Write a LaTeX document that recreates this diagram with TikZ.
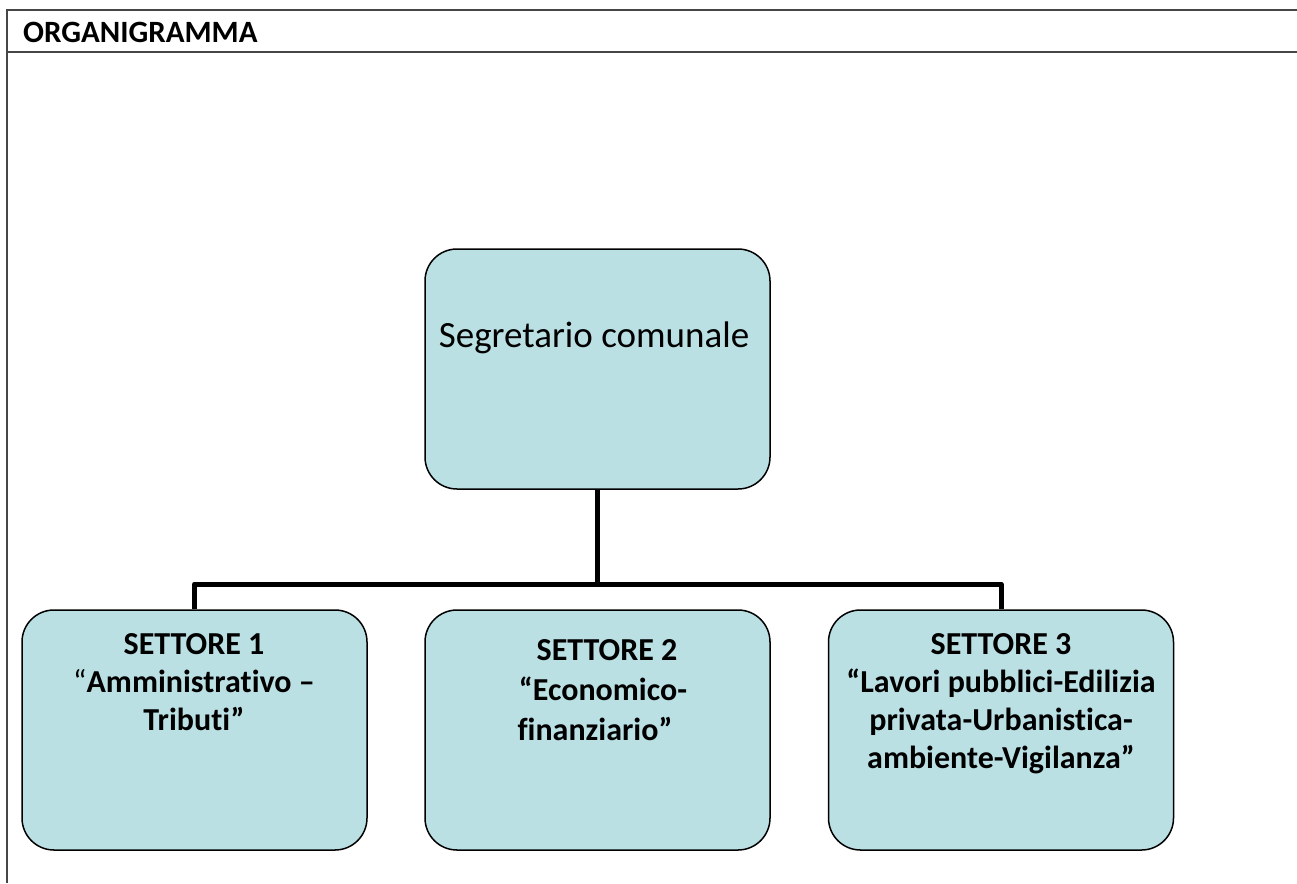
\documentclass[tikz,border=0pt]{standalone}
\usepackage{fontspec}
\setmainfont{Carlito}[Ligatures={NoCommon,NoRare}]
\definecolor{boxfill}{RGB}{186,224,228}
\definecolor{rulegray}{RGB}{70,70,70}
\begin{document}
\begin{tikzpicture}[x=1pt,y=-1pt,
  orgbox/.style={draw=black, line width=1.5pt, fill=boxfill, rounded corners=32pt,
    minimum width=345pt, minimum height=240pt, inner sep=0pt},
  boxtext/.style={font=\fontsize{32}{38}\selectfont\bfseries, align=center, inner sep=0pt, anchor=north},
  conn/.style={draw=black, line width=5pt, line join=round},
  tablerule/.style={draw=rulegray, line width=1.5pt}]
\useasboundingbox (0,0) rectangle (1297,883);
% table frame
\draw[tablerule] (7,883) -- (7,10) -- (1297,10);
\draw[tablerule] (7,52) -- (1297,52);
\node[anchor=base west, inner sep=0pt, font=\fontsize{31}{34}\selectfont\bfseries] (title) at (23,42.5) {ORGANIGRAMMA};
% boxes
\node[orgbox] (top) at (597.5,369) {};
\node[orgbox] (b1) at (194.5,730) {};
\node[orgbox] (b2) at (597.5,730) {};
\node[orgbox] (b3) at (1001,730) {};
% texts
\node[anchor=base, inner sep=0pt, font=\fontsize{37}{40}\selectfont] (toptext) at (594,347) {Segretario comunale};
\node[boxtext] (t1) at (194,633.5) {SETTORE 1\\{\mdseries “}Amministrativo –\\Tributi”};
\node[boxtext, font=\fontsize{32}{40}\selectfont\bfseries] (t2) at (601,639.5) {\hspace*{12pt}SETTORE 2\\\hspace*{4pt}“Economico-\\finanziario”\hspace*{12pt}};
\node[boxtext] (t3) at (1001,633.5) {SETTORE 3\\“Lavori pubblici-Edilizia\\privata-Urbanistica-\\ambiente-Vigilanza”};
% connectors
\coordinate (bus) at (597.5,584);
\draw[conn] (b1.north) |- (bus) -| (b3.north);
\draw[conn] (top.south) -- (bus);
\end{tikzpicture}
\end{document}
